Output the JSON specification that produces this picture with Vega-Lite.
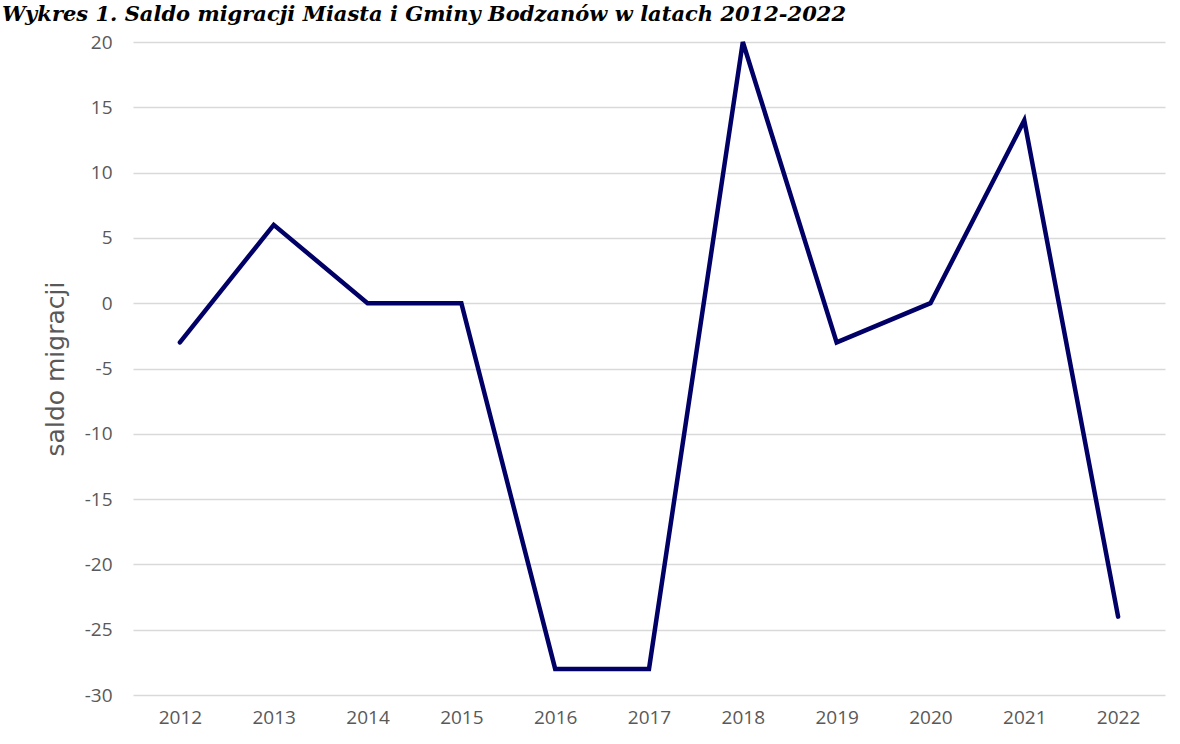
{
  "$schema": "https://vega.github.io/schema/vega-lite/v6.json",
  "autosize": "none",
  "padding": {"left": 133, "top": 42, "right": 15, "bottom": 49},
  "width": 1032,
  "height": 653,
  "background": "white",
  "title": {
    "text": "Wykres 1. Saldo migracji Miasta i Gminy Bodzanów w latach 2012-2022",
    "anchor": "start",
    "frame": "group",
    "dx": -131,
    "offset": -9,
    "baseline": "alphabetic",
    "font": "DejaVu Serif",
    "fontStyle": "italic",
    "fontWeight": "bold",
    "fontSize": 21,
    "color": "#000000"
  },
  "data": {
    "values": [
      {"rok": "2012", "saldo": -3},
      {"rok": "2013", "saldo": 6},
      {"rok": "2014", "saldo": 0},
      {"rok": "2015", "saldo": 0},
      {"rok": "2016", "saldo": -28},
      {"rok": "2017", "saldo": -28},
      {"rok": "2018", "saldo": 20},
      {"rok": "2019", "saldo": -3},
      {"rok": "2020", "saldo": 0},
      {"rok": "2021", "saldo": 14},
      {"rok": "2022", "saldo": -24}
    ]
  },
  "mark": {"type": "line", "color": "#000066", "strokeWidth": 4.5, "strokeCap": "round", "strokeJoin": "miter"},
  "encoding": {
    "x": {
      "field": "rok",
      "type": "ordinal",
      "scale": {"type": "point", "padding": 0.5},
      "axis": {
        "title": null,
        "labelAngle": 0,
        "ticks": false,
        "domain": false,
        "grid": false,
        "labelPadding": 13,
        "labelFont": "Open Sans",
        "labelFontSize": 19,
        "labelColor": "#595959"
      }
    },
    "y": {
      "field": "saldo",
      "type": "quantitative",
      "scale": {"domain": [-30, 20], "nice": false, "zero": false},
      "axis": {
        "title": "saldo migracji",
        "values": [-30, -25, -20, -15, -10, -5, 0, 5, 10, 15, 20],
        "labelExpr": "toString(datum.value)",
        "ticks": false,
        "domain": false,
        "gridColor": "#d9d9d9",
        "gridWidth": 1.3,
        "labelPadding": 21,
        "labelFont": "Open Sans",
        "labelFontSize": 19,
        "labelColor": "#595959",
        "titleFont": "DejaVu Sans",
        "titleFontWeight": "normal",
        "titleFontSize": 25,
        "titleColor": "#595959",
        "titlePadding": 16
      }
    }
  },
  "config": {"view": {"stroke": null}}
}
